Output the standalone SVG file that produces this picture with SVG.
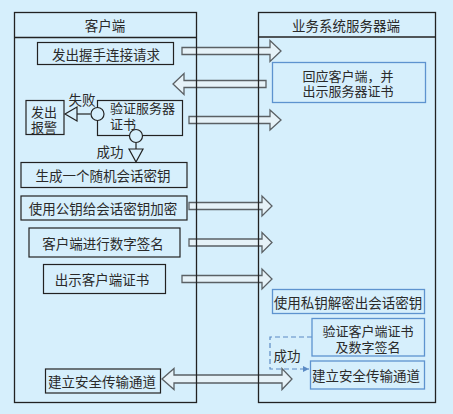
<svg xmlns="http://www.w3.org/2000/svg" width="453" height="414" viewBox="0 0 453 414">
<defs>
<style>
.t{font-family:"Noto Sans CJK SC","Liberation Sans",sans-serif;font-size:13.5px;fill:#2a2a2a;dominant-baseline:central;text-anchor:middle}
.s{font-size:13px}
.tl{text-anchor:start}
.box{fill:none;stroke:#222;stroke-width:1.2}
.bbox{fill:none;stroke:#5d93cf;stroke-width:1.3}
.lane{fill:none;stroke:#222;stroke-width:1.3}
.arr{fill:#e6f2f8;stroke:#5a6064;stroke-width:1.3;stroke-linejoin:miter}
.ln{fill:none;stroke:#222;stroke-width:1.2}
.circ{fill:#d6effc;stroke:#222;stroke-width:1.2}
.tri{fill:#d6effc;stroke:#222;stroke-width:1.2}
.dash{fill:none;stroke:#5b8ac4;stroke-width:1.2;stroke-dasharray:5,3}
</style>
<marker id="dh" markerWidth="8" markerHeight="8" refX="6" refY="4" orient="auto" markerUnits="userSpaceOnUse">
<path d="M0,1 L6,4 L0,7 Z" fill="#5b8ac4"/>
</marker>
</defs>
<rect x="0" y="0" width="453" height="414" fill="#d6effc"/>

<g id="connectors">
<polygon class="arr" points="182,47.5 270,47.5 270,40.5 281,51 270,61.5 270,54.5 182,54.5"/>
<polygon class="arr" points="266,80.5 184,80.5 184,73.5 173,84 184,94.5 184,87.5 266,87.5"/>
<polygon class="arr" points="189,116.5 270,116.5 270,110 281,120 270,130 270,123.5 189,123.5"/>
<polygon class="arr" points="189,202.5 262,202.5 262,196 272,206 262,216 262,209.5 189,209.5"/>
<polygon class="arr" points="189,239 262,239 262,232.5 272,242.5 262,252.5 262,246 189,246"/>
<polygon class="arr" points="182,275.5 262,275.5 262,269 272,279 262,289 262,282.5 182,282.5"/>
<polygon class="arr" points="174,375 282,375 282,368.5 292,379 282,389.5 282,383 174,383 174,389.5 162,379 174,368.5"/>
<line class="ln" x1="90.5" y1="114" x2="77" y2="114"/>
<polygon class="tri" points="77,107 77,121 65,114"/>
<line class="ln" x1="136" y1="142.5" x2="136" y2="149"/>
<polygon class="tri" points="129,149 143,149 136,162"/>
<path class="dash" d="M312,337 H270 V369 H309" marker-end="url(#dh)"/>
<text class="t" x="82" y="99">失败</text>
<text class="t" x="110" y="151">成功</text>
<text class="t" x="287" y="355">成功</text>
</g>

<g id="lane-client">
<rect class="lane" x="14.5" y="12.5" width="182" height="390"/>
<line class="lane" x1="14.5" y1="37.5" x2="196.5" y2="37.5"/>
<text class="t" x="105" y="25">客户端</text>
</g>
<g id="lane-server">
<rect class="lane" x="258.5" y="12.5" width="177" height="390"/>
<line class="lane" x1="258.5" y1="37" x2="435.5" y2="37"/>
<text class="t" x="346" y="25">业务系统服务器端</text>
</g>

<g id="n1"><rect class="box" x="37.5" y="42.5" width="136" height="22"/><text class="t" x="106" y="54">发出握手连接请求</text></g>
<g id="n2"><rect class="box" x="26" y="100.5" width="38" height="34"/><text class="t s" x="44" y="111">发出<tspan x="44" dy="15">报警</tspan></text></g>
<g id="n3"><rect class="box" x="97.5" y="100.5" width="85" height="35"/><text class="t s tl" x="110" y="107.5">验证服务器<tspan x="110" dy="15">证书</tspan></text>
<circle class="circ" cx="97.5" cy="114" r="6.5"/><circle class="circ" cx="136" cy="136" r="6.5"/></g>
<g id="n4"><rect class="box" x="21" y="162.5" width="166" height="25"/><text class="t" x="103" y="175">生成一个随机会话密钥</text></g>
<g id="n5"><rect class="box" x="21" y="196" width="166" height="24"/><text class="t" x="103" y="208">使用公钥给会话密钥加密</text></g>
<g id="n6"><rect class="box" x="29" y="228" width="151" height="29"/><text class="t" x="103" y="242.5">客户端进行数字签名</text></g>
<g id="n7"><rect class="box" x="43.5" y="264.5" width="122" height="29"/><text class="t" x="102" y="279">出示客户端证书</text></g>
<g id="n8"><rect class="box" x="45.5" y="369" width="115" height="24"/><text class="t" x="102" y="381">建立安全传输通道</text></g>

<g id="s1"><rect class="bbox" x="272.5" y="62.5" width="153" height="40"/><text class="t s" x="348" y="75">回应客户端，并<tspan x="348" dy="15">出示服务器证书</tspan></text></g>
<g id="s2"><rect class="bbox" x="272.5" y="289.5" width="152" height="24"/><text class="t" x="348" y="301.5">使用私钥解密出会话密钥</text></g>
<g id="s3"><rect class="bbox" x="312" y="318.5" width="112.5" height="37.5"/><text class="t s" x="368" y="330">验证客户端证书<tspan x="368" dy="16">及数字签名</tspan></text></g>
<g id="s4"><rect class="bbox" x="310.5" y="361" width="114" height="28"/><text class="t" x="366" y="375">建立安全传输通道</text></g>
</svg>
